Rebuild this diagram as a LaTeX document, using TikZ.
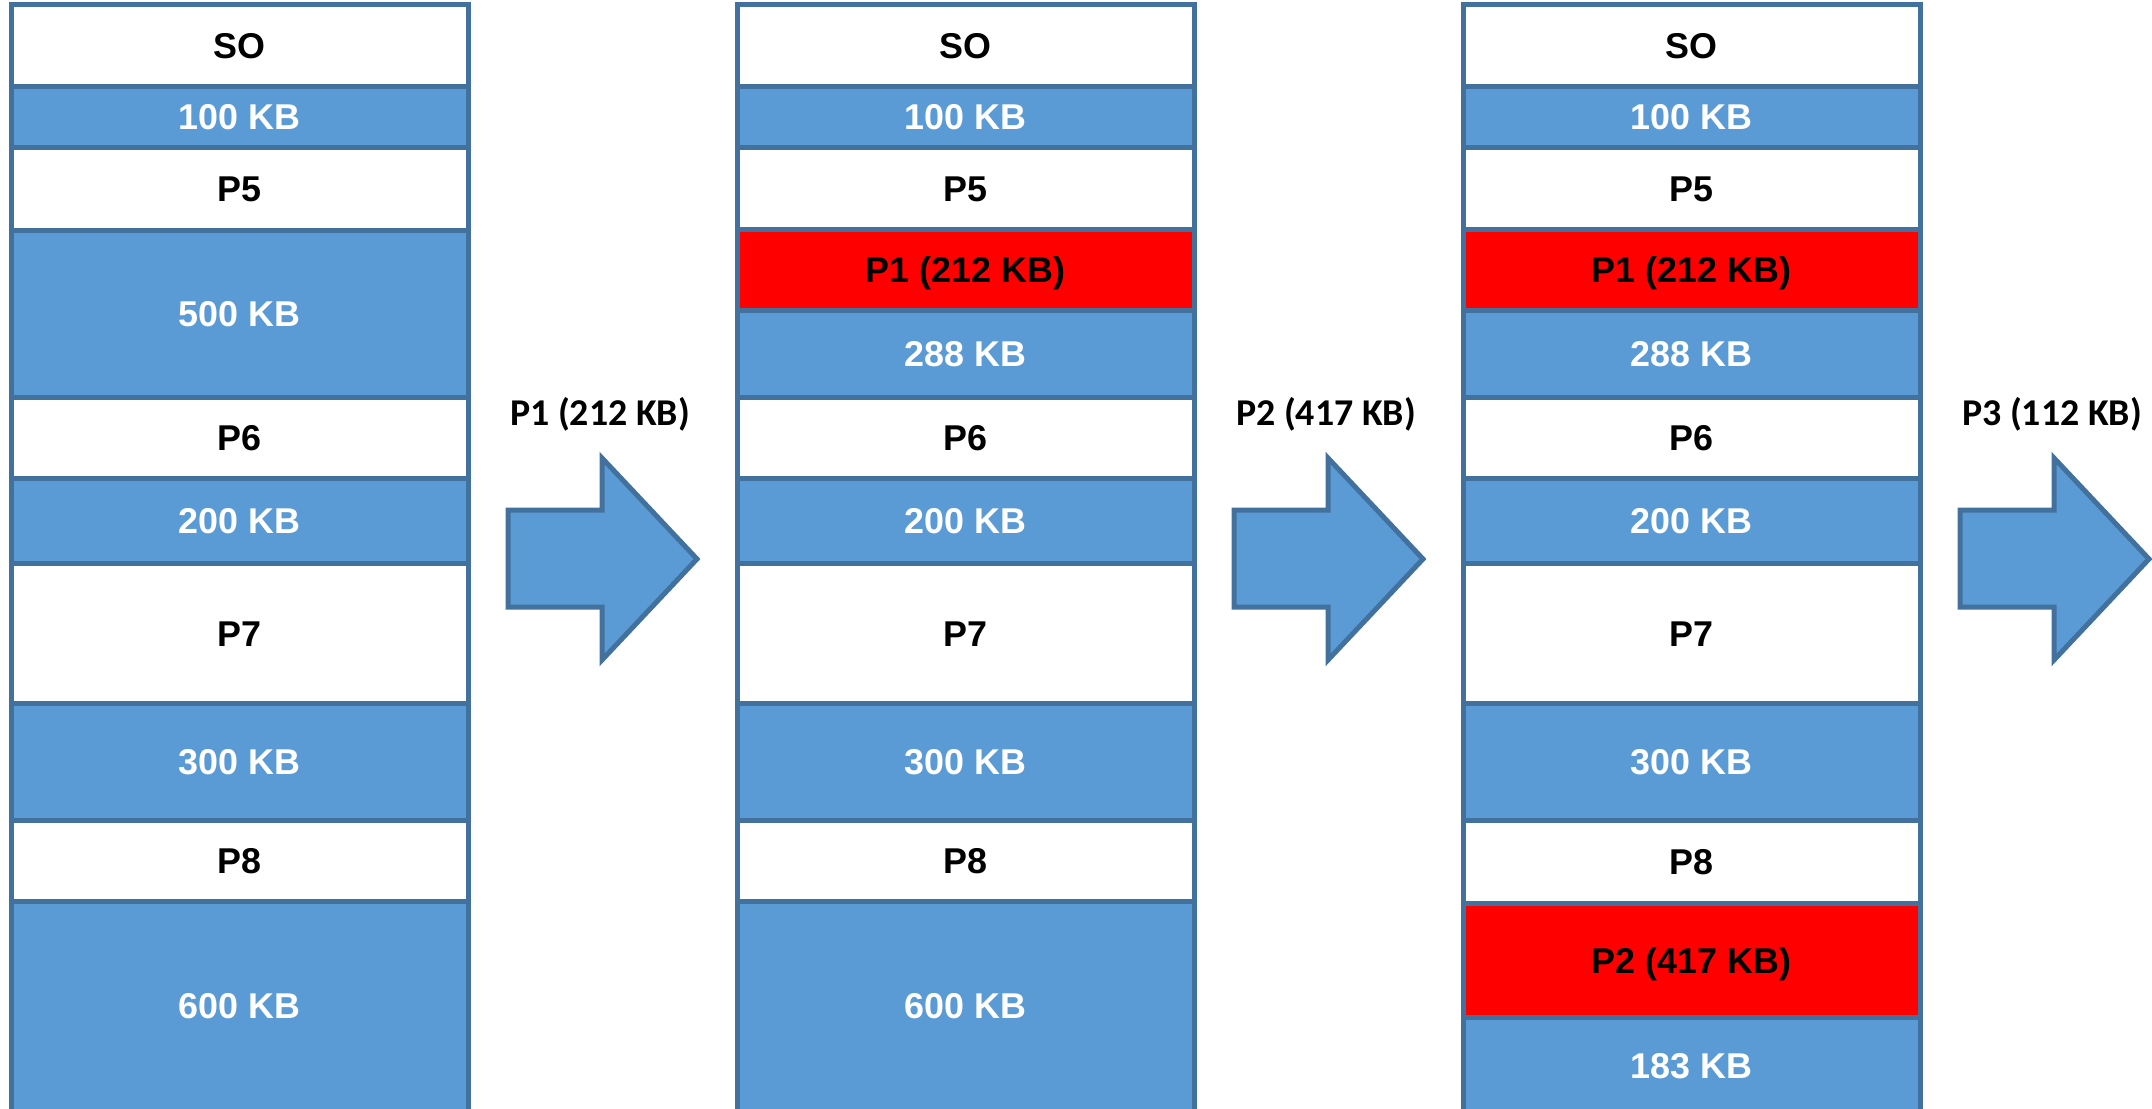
\documentclass[tikz,border=0pt]{standalone}
\usepackage{fontspec}
\setmainfont{Liberation Sans}
\newfontfamily\lblfont{Carlito}
\definecolor{memblue}{HTML}{5B9BD5}
\definecolor{memedge}{HTML}{41719C}
\definecolor{memred}{HTML}{FF0000}
\newcommand\memcell[6]{\path[#5cell] (#2,#3) rectangle ({#2+457},#4) node[#5text, midway] (#1) {#6};}
\newcommand\bigarr[3]{%
  \path[bigarrow] ({508+#1},510) -- ({602+#1},510) -- ({602+#1},458) -- ({697+#1},559) -- ({602+#1},660) -- ({602+#1},607) -- ({508+#1},607) -- cycle;
  \node[arrowlabel] (#2) at ({600+#1},413) {#3};}
\begin{document}
\begin{tikzpicture}[x=1bp,y=-1bp,
 cellbase/.style={draw=memedge,line width=5bp},
 freecell/.style={cellbase,fill=memblue},
 usedcell/.style={cellbase,fill=white},
 newcell/.style={cellbase,fill=memred},
 celltext/.style={font=\fontsize{36}{40}\selectfont\bfseries, inner sep=0pt, text height=26bp, text depth=0bp},
 freetext/.style={celltext,text=white},
 usedtext/.style={celltext,text=black},
 newtext/.style={celltext,text=black},
 bigarrow/.style={fill=memblue,draw=memedge,line width=5bp,line join=miter},
 arrowlabel/.style={font=\lblfont\fontsize{38}{42}\selectfont\bfseries, inner sep=0pt, text height=24bp, text depth=0bp}]
\useasboundingbox (0,0) rectangle (2152,1108);
\clip (0,0) rectangle (2152,1108);
% column 1
\memcell{aso}{11}{4}{86}{used}{SO}
\memcell{aa}{11}{86}{147}{free}{100 KB}
\memcell{apv}{11}{147}{230}{used}{P5}
\memcell{ab}{11}{230}{397}{free}{500 KB}
\memcell{apvi}{11}{397}{478}{used}{P6}
\memcell{ac}{11}{478}{563}{free}{200 KB}
\memcell{apvii}{11}{563}{703}{used}{P7}
\memcell{ad}{11}{703}{820}{free}{300 KB}
\memcell{apviii}{11}{820}{901}{used}{P8}
\path[freecell] (11,901) rectangle (468,1130);
\node[freetext] (ae) at (239.5,1005) {600 KB};
% column 2
\memcell{bso}{737}{4}{86}{used}{SO}
\memcell{ba}{737}{86}{147}{free}{100 KB}
\memcell{bpv}{737}{147}{229}{used}{P5}
\memcell{bpi}{737}{229}{310}{new}{P1 (212 KB)}
\memcell{bb}{737}{310}{397}{free}{288 KB}
\memcell{bpvi}{737}{397}{478}{used}{P6}
\memcell{bc}{737}{478}{563}{free}{200 KB}
\memcell{bpvii}{737}{563}{703}{used}{P7}
\memcell{bd}{737}{703}{820}{free}{300 KB}
\memcell{bpviii}{737}{820}{901}{used}{P8}
\path[freecell] (737,901) rectangle (1194,1130);
\node[freetext] (be) at (965.5,1005) {600 KB};
% column 3
\memcell{cso}{1463}{4}{86}{used}{SO}
\memcell{ca}{1463}{86}{147}{free}{100 KB}
\memcell{cpv}{1463}{147}{229}{used}{P5}
\memcell{cpi}{1463}{229}{310}{new}{P1 (212 KB)}
\memcell{cb}{1463}{310}{397}{free}{288 KB}
\memcell{cpvi}{1463}{397}{478}{used}{P6}
\memcell{cc}{1463}{478}{563}{free}{200 KB}
\memcell{cpvii}{1463}{563}{703}{used}{P7}
\memcell{cd}{1463}{703}{820}{free}{300 KB}
\memcell{cpviii}{1463}{820}{903}{used}{P8}
\memcell{cpii}{1463}{903}{1017}{new}{P2 (417 KB)}
\path[freecell] (1463,1017) rectangle (1920,1130);
\node[freetext] (ce) at (1691.5,1065) {183 KB};
% arrows
\bigarr{0}{la}{P1 (212 KB)}
\bigarr{726}{lb}{P2 (417 KB)}
\bigarr{1452}{lc}{P3 (112 KB)}
\end{tikzpicture}
\end{document}
